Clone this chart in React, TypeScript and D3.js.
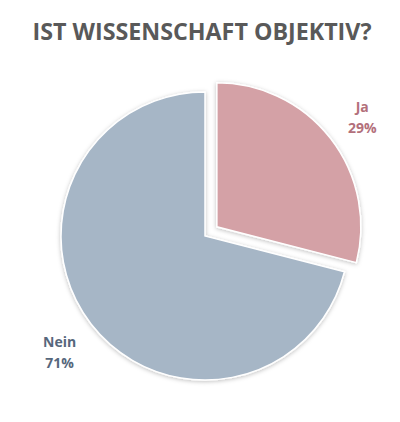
import React, { useRef, useEffect } from 'react';
import * as d3 from 'd3';

const categories = ['Ja', 'Nein'];
const values = [29, 71];
const fills = ['#d4a1a6', '#a6b6c6'];
const labelColors = ['#b3707b', '#56677c'];
const explodeOffsets = [15, 0];

const W = 400;
const H = 422;

export default function App() {
  const svgRef = useRef<SVGSVGElement>(null);

  useEffect(() => {
    if (!svgRef.current) return;
    const svg = d3.select(svgRef.current);
    svg.selectAll('*').remove();

    const defs = svg.append('defs');
    const filter = defs.append('filter').attr('id', 'shadow')
      .attr('x', '-20%').attr('y', '-20%').attr('width', '140%').attr('height', '140%');
    filter.append('feDropShadow')
      .attr('dx', 0).attr('dy', 1)
      .attr('stdDeviation', 2)
      .attr('flood-color', '#000')
      .attr('flood-opacity', 0.25);

    svg.append('text')
      .attr('x', 202)
      .attr('y', 40)
      .attr('text-anchor', 'middle')
      .attr('font-family', "'Open Sans', sans-serif")
      .attr('font-weight', 'bold')
      .attr('font-size', 24)
      .attr('fill', '#595959')
      .attr('textLength', 339)
      .attr('lengthAdjust', 'spacingAndGlyphs')
      .text('IST WISSENSCHAFT OBJEKTIV?');

    const cx = 205;
    const cy = 236;
    const radius = 144;

    const pie = d3.pie<number>().sort(null).value(d => d);
    const arcs = pie(values);
    const arc = d3.arc<d3.PieArcDatum<number>>().innerRadius(0).outerRadius(radius);
    const labelArc = d3.arc<d3.PieArcDatum<number>>().innerRadius(184).outerRadius(184);

    const g = svg.append('g').attr('transform', `translate(${cx},${cy})`);

    const offset = (d: d3.PieArcDatum<number>, i: number) => {
      const mid = (d.startAngle + d.endAngle) / 2;
      const o = explodeOffsets[i];
      return [Math.sin(mid) * o, -Math.cos(mid) * o];
    };

    g.selectAll('path.slice')
      .data(arcs)
      .enter()
      .append('path')
      .attr('class', 'slice')
      .attr('transform', (d, i) => {
        const [ox, oy] = offset(d, i);
        return `translate(${ox},${oy})`;
      })
      .attr('d', arc)
      .attr('fill', (d, i) => fills[i])
      .attr('stroke', '#fff')
      .attr('stroke-width', 1.5)
      .attr('filter', 'url(#shadow)');

    const labels = g.selectAll('text.label')
      .data(arcs)
      .enter()
      .append('text')
      .attr('class', 'label')
      .attr('text-anchor', 'middle')
      .attr('font-family', "'Open Sans', sans-serif")
      .attr('font-weight', 'bold')
      .attr('font-size', 14)
      .attr('fill', (d, i) => labelColors[i])
      .attr('transform', (d, i) => {
        const [ox, oy] = offset(d, i);
        const [lx, ly] = labelArc.centroid(d);
        return `translate(${lx + ox},${ly + oy})`;
      });

    labels.append('tspan').attr('x', 0).attr('dy', '-0.15em').text((d, i) => categories[i]);
    labels.append('tspan').attr('x', 0).attr('dy', '1.5em').text((d, i) => `${values[i]}%`);
  }, []);

  return (
    <svg ref={svgRef} width={W} height={H} style={{ display: 'block', position: 'absolute', left: 0, top: 0, background: '#fff' }} />
  );
}
